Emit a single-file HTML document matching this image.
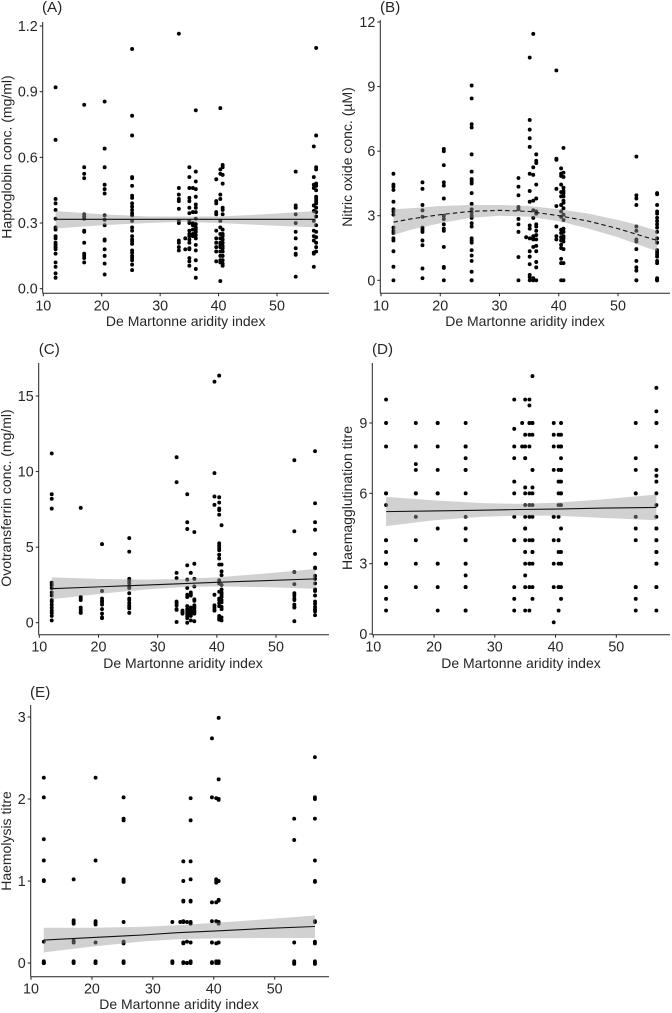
<!DOCTYPE html>
<html lang="en">
<head>
<meta charset="utf-8">
<title>Immune indices vs De Martonne aridity index</title>
<style>
html,body{margin:0;padding:0;background:#fff;width:672px;height:1013px;overflow:hidden}
svg{display:block;filter:blur(0.3px)}
text{font-family:"Liberation Sans",sans-serif;fill:#262626}
.tick{font-size:14.3px}
.title{font-size:14px}
.tag{font-size:15.2px}
</style>
</head>
<body>
<svg id="figure" xmlns="http://www.w3.org/2000/svg" width="672" height="1013" viewBox="0 0 672 1013">
  <rect width="672" height="1013" fill="#fff"/>

  <g id="panel-a">
    <text class="tag" x="42" y="12">(A)</text>
    <text class="title" x="185.7" y="326" text-anchor="middle">De Martonne aridity index</text>
    <text class="title" transform="translate(11.5,157) rotate(-90)" text-anchor="middle">Haptoglobin conc. (mg/ml)</text>
  </g>
  <g id="panel-b">
    <text class="tag" x="380" y="12">(B)</text>
    <text class="title" x="525" y="326" text-anchor="middle">De Martonne aridity index</text>
    <text class="title" transform="translate(352,157) rotate(-90)" text-anchor="middle">Nitric oxide conc. (µM)</text>
  </g>
  <g id="panel-c">
    <text class="tag" x="38.7" y="354">(C)</text>
    <text class="title" x="183" y="668" text-anchor="middle">De Martonne aridity index</text>
    <text class="title" transform="translate(11,498) rotate(-90)" text-anchor="middle">Ovotransferrin conc. (mg/ml)</text>
  </g>
  <g id="panel-d">
    <text class="tag" x="372" y="354">(D)</text>
    <text class="title" x="521" y="668" text-anchor="middle">De Martonne aridity index</text>
    <text class="title" transform="translate(352,498) rotate(-90)" text-anchor="middle">Haemagglutination titre</text>
  </g>
  <g id="panel-e">
    <text class="tag" x="30" y="697">(E)</text>
    <text class="title" x="179" y="1009" text-anchor="middle">De Martonne aridity index</text>
    <text class="title" transform="translate(11,841) rotate(-90)" text-anchor="middle">Haemolysis titre</text>
  </g>
</svg>

<script>
// ---------- shared tick labels ----------
const xTicks = [10, 20, 30, 40, 50];

// ---------- (A) Haptoglobin ----------
const hapYTicks = ["0.0", "0.3", "0.6", "0.9", "1.2"];
const hapSiteX = [12.1, 17, 20.5, 25.2, 33.2, 34.3, 35, 35.6, 36.1, 39.6, 40.3, 40.7, 53.2, 56.3, 56.7];
const hapValues = [
  [0.92,0.68,0.41,0.39,0.36,0.32,0.28,0.27,0.24,0.23,0.21,0.20,0.19,0.18,0.16,0.12,0.10,0.07,0.05],
  [0.84,0.555,0.525,0.505,0.34,0.33,0.32,0.265,0.26,0.21,0.16,0.15,0.14,0.12],
  [0.855,0.64,0.555,0.475,0.455,0.435,0.335,0.315,0.29,0.225,0.22,0.18,0.15,0.115,0.065],
  [1.095,0.79,0.70,0.51,0.505,0.47,0.425,0.415,0.39,0.375,0.36,0.345,0.335,0.31,0.28,0.265,0.24,0.225,0.215,0.205,0.175,0.165,0.15,0.14,0.13,0.11,0.085],
  [1.165,0.46,0.43,0.41,0.40,0.365,0.31,0.30,0.22,0.21,0.19,0.175],
  [0.23,0.18],
  [0.555,0.51,0.46,0.415,0.40,0.37,0.345,0.31,0.30,0.265,0.25,0.24,0.225,0.21,0.185,0.18,0.14,0.125,0.105],
  [0.46,0.35,0.30,0.29,0.27,0.25,0.24],
  [0.815,0.535,0.49,0.455,0.42,0.385,0.37,0.35,0.32,0.295,0.28,0.27,0.26,0.245,0.23,0.20,0.175,0.13,0.09,0.05],
  [0.50,0.40,0.39,0.35,0.34,0.265,0.23,0.21,0.19,0.17,0.125],
  [0.825,0.545,0.525,0.43,0.41,0.31,0.28,0.25,0.23,0.21,0.20,0.19,0.17,0.15,0.13,0.12,0.035],
  [0.565,0.555,0.52,0.48,0.37,0.36,0.34,0.27,0.25,0.24,0.225,0.21,0.195,0.185,0.17,0.15,0.13,0.115,0.105],
  [0.535,0.38,0.37,0.34,0.30,0.26,0.23,0.185,0.16,0.155,0.055],
  [0.65,0.51,0.475,0.46,0.38,0.355,0.31,0.265,0.24,0.22,0.165,0.16,0.10],
  [1.10,0.70,0.555,0.545,0.48,0.47,0.45,0.42,0.41,0.40,0.39,0.37,0.35,0.33,0.29,0.26,0.235,0.21,0.19,0.17]
];
const hapFitX = [12.1, 20, 28, 34, 40, 48, 56.6];
const hapFitMean = [0.317, 0.317, 0.317, 0.317, 0.317, 0.317, 0.317];
const hapFitUpper = [0.355, 0.34, 0.33, 0.33, 0.33, 0.34, 0.355];
const hapFitLower = [0.275, 0.29, 0.30, 0.305, 0.30, 0.29, 0.28];

// ---------- (B) Nitric oxide ----------
const noYTicks = ["0", "3", "6", "9", "12"];
const noSiteX = [12.1, 17, 20.6, 25.3, 33.2, 34.5, 35.1, 35.7, 36.2, 39.6, 40.4, 40.8, 53.1, 56.6];
const noValues = [
  [4.95,4.45,4.35,4.2,3.65,3.3,3.2,3.05,2.45,2.3,2.2,1.95,1.85,1.35,0.63,0],
  [4.55,4.25,3.5,3.25,2.95,2.45,2.35,2.25,1.85,1.63,0.55,0.1],
  [6.1,6.0,5.35,4.55,4.4,3.8,3.0,2.85,2.6,2.4,2.3,1.55,0.62,0.58,0],
  [9.05,8.45,7.25,7.1,5.85,5.05,4.7,4.6,4.5,4.05,3.55,3.3,3.15,3.0,2.9,2.65,2.5,1.95,1.85,1.75,1.4,1.15,0.9,0.4,0,0],
  [4.75,4.35,3.95,3.4,3.3,2.85,2.6,2.25,1.08,0],
  [2.0],
  [10.35,7.45,7.0,6.6,6.2,4.95,4.15,3.65,2.55,2.4,1.95,1.35,1.1,0.75,0.25,0.15,0],
  [11.45,5.25,4.9,3.7,3.25,2.9,2.05,1.95,1.9,1.55,0.1,0],
  [5.85,5.55,5.45,4.45,3.8,3.2,3.1,2.6,2.5,2.3,2.1,1.9,1.6,1.35,0.85,0.6,0],
  [9.75,5.65,5.6,4.25,3.45,2.5,2.05,1.9],
  [5.2,4.95,4.85,4.45,4.1,3.9,3.5,3.2,2.95,2.35,2.2,2.0,1.85,1.65,1.5,1.0,0.8,0],
  [6.15,5.0,4.8,4.3,4.15,4.05,3.9,3.7,3.6,3.35,3.05,2.8,2.4,2.25,2.05,1.95,1.8,1.45,0.8,0],
  [5.75,3.95,3.8,3.5,2.5,2.3,1.9,1.8,1.45,0.9,0.6,0.45,0,0],
  [4.05,4.0,3.5,3.2,3.1,2.9,2.75,2.6,2.45,2.25,1.95,1.75,1.4,1.3,1.2,1.1,0.9,0.8,0.1,0.05,0,0]
];
const noFitX = [12.1, 15, 20, 25, 30, 35, 40, 45, 50, 53, 56.6];
const noFitMean = [2.7, 2.85, 3.05, 3.2, 3.25, 3.2, 3.0, 2.75, 2.4, 2.15, 1.85];
const noFitUpper = [3.3, 3.35, 3.45, 3.5, 3.5, 3.45, 3.3, 3.1, 2.8, 2.6, 2.3];
const noFitLower = [2.1, 2.35, 2.65, 2.9, 3.0, 2.95, 2.75, 2.4, 2.0, 1.7, 1.35];

// ---------- (C) Ovotransferrin ----------
const ovoYTicks = ["0", "5", "10", "15"];
const ovoSiteX = [12.1, 17, 20.6, 25.2, 33.2, 34.2, 35, 35.6, 36.2, 39.6, 40.4, 40.8, 53.1, 56.6];
const ovoValues = [
  [11.2,8.5,8.2,7.55,2.65,2.5,2.3,2.0,1.8,1.5,1.4,1.2,1.0,0.8,0.65,0.45,0.15],
  [7.6,1.7,1.6,1.5,1.0,0.85,0.7,0.65],
  [5.2,2.1,1.6,1.45,1.35,1.2,0.9,0.6,0.35,0.3],
  [5.6,4.7,2.9,2.75,2.6,2.4,2.3,1.95,1.6,1.5,1.3,1.15,1.05,0.95,0.65],
  [10.95,9.3,3.3,2.95,1.4,1.3,1.15,0.9,0.85,0.05],
  [0.8,0.7,0.6],
  [8.5,6.65,6.2,3.8,2.85,2.3,1.85,1.7,1.1,0.9,0.75,0.6,0.5,0.4,0.3,0],
  [3.3,2.0,1.9,1.8,1.0,0.8,0.65,0.55,0.45,0.15],
  [6.0,3.9,2.9,2.4,1.55,1.45,1.15,1.05,0.95,0.8,0.7,0.6,0.1],
  [15.95,9.9,8.35,7.8,1.85,1.15,1.0,0.85,0.8],
  [16.35,8.3,7.95,7.55,7.45,7.15,5.25,5.1,4.95,4.8,4.5,4.25,3.85,2.8,2.6,2.05,1.6,1.5,1.3,1.1,0.45,0.3,0.2],
  [6.45,3.85,3.4,3.15,2.5,2.2,2.0,1.85,1.7,1.5,1.35,1.05,0.9,0.35,0.15],
  [10.75,6.05,3.35,2.55,1.95,1.8,1.6,1.5,1.2,1.05,1.0,0.1],
  [11.35,7.9,6.65,6.15,4.55,3.65,3.6,3.1,2.9,2.6,2.2,2.1,1.8,1.4,1.25,1.05,0.9,0.85,0.75,0.5]
];
const ovoFitX = [12.1, 20, 28, 34, 40, 48, 56.6];
const ovoFitMean = [2.25, 2.37, 2.49, 2.58, 2.67, 2.78, 2.9];
const ovoFitUpper = [3.0, 2.9, 2.85, 2.9, 3.0, 3.25, 3.55];
const ovoFitLower = [1.55, 1.9, 2.2, 2.35, 2.4, 2.35, 2.25];

// ---------- (D) Haemagglutination ----------
const haYTicks = ["0", "3", "6", "9"];
const haSiteX = [12.1, 17, 20.6, 25.2, 33.2, 34.5, 35, 35.7, 36.2, 39.7, 40.5, 40.9, 53.2, 56.6];
const haValues = [
  [10,9,8,6,6,5.5,4,4,3.5,3,3,2,1.5,1],
  [9,8,7.25,7,6,6,5,4,3,2],
  [9,9,8,7,6,6,4.5,3,3,2,1],
  [9,8,8,7.5,7,7,6,5,4.5,4,4,3,3,2.5,2,2,1,1],
  [10,8.75,8,7.5,6.5,6,5,4,4,2,1.5,1],
  [9,8],
  [10,8.5,8,7.5,7.5,6.25,6,5.5,5,4.5,4.5,4,3.5,3,2.5,2,1],
  [10,9.75,9,9,8.5,8,6,5.5,5,4,3,3,2,1],
  [11,9,9,8.5,7,7,6.25,6,5.5,5,4,4,3.5,3.5,3,2,1.5],
  [9,8.5,8,7,5,5,4,3,2,0.5],
  [8.5,8,7,6.5,6,5.5,5,4,4,3.5,3,2,2,1],
  [9,8.5,8,8,7.5,7,7,6.5,6,6,5.5,4.5,3.5,3,3,2,1.5],
  [9,7.5,7,6,6,5,4.5,4,2,2,1.5,1],
  [10.5,9.5,9,9,8,7,6.75,6.5,6,5.5,5,4.5,4.5,4,4,3.5,3.5,3,3,2,2,1]
];
const haFitX = [12.1, 20, 28, 34, 40, 48, 56.6];
const haFitMean = [5.22, 5.25, 5.28, 5.31, 5.33, 5.37, 5.4];
const haFitUpper = [5.85, 5.7, 5.58, 5.55, 5.6, 5.75, 5.95];
const haFitLower = [4.6, 4.85, 5.0, 5.05, 5.05, 4.95, 4.85];

// ---------- (E) Haemolysis ----------
const hlYTicks = ["0", "1", "2", "3"];
const hlSiteX = [12.1, 17, 20.6, 25.2, 33.2, 34.5, 35, 35.6, 36.2, 39.7, 40.4, 40.8, 53.2, 56.6];
const hlValues = [
  [2.26,2.02,1.51,1.25,1.01,1.0,0.26,0.02,0,0,0],
  [1.02,0.52,0.5,0.48,0.27,0.25,0.02,0.01,0],
  [2.26,1.25,0.51,0.49,0.47,0.25,0.02,0.01,0,0],
  [2.02,1.76,1.74,1.02,1.0,0.99,0.5,0.26,0.24,0.02,0.01,0],
  [0.5,0.02,0.01,0],
  [0.5],
  [1.24,1.0,0.76,0.75,0.51,0.5,0.25,0.24,0.01,0],
  [0.5,0.26,0,0],
  [2.01,1.74,1.24,1.02,0.76,0.75,0.5,0.48,0.25,0.02,0],
  [2.74,2.02,0.74,0.51,0.25,0.01,0],
  [2.01,1.02,1.0,0.98,0.74,0.51,0.24,0.02,0],
  [2.99,2.24,2.0,1.99,1.0,0.77,0.76,0.5,0.48,0.25,0.02,0.01,0],
  [1.76,1.5,0.25,0.02,0,-0.01],
  [2.51,2.02,2.0,1.76,1.25,1.0,0.99,0.51,0.5,0.26,0.24,0.02,0,-0.01]
];
const hlFitX = [12.1, 20, 28, 34, 40, 48, 56.6];
const hlFitMean = [0.28, 0.31, 0.34, 0.37, 0.39, 0.42, 0.445];
const hlFitUpper = [0.43, 0.43, 0.44, 0.46, 0.49, 0.53, 0.58];
const hlFitLower = [0.13, 0.2, 0.26, 0.29, 0.3, 0.305, 0.305];

// ---------- panel geometry (plot frame, calibration of axes) ----------
const panels = [
  {id:"panel-a", key:"haptoglobin", left:42.7, right:329, top:22, bottom:293.3, x10:43.3, x50:277, yLo:288.7, yHi:26, yMin:0, yMax:1.2, yLabels:hapYTicks, sites:hapSiteX, vals:hapValues, fx:hapFitX, fm:hapFitMean, fu:hapFitUpper, fl:hapFitLower, dash:false},
  {id:"panel-b", key:"nitric-oxide", left:380.3, right:670, top:20, bottom:293.3, x10:381, x50:618, yLo:280.3, yHi:22, yMin:0, yMax:12, yLabels:noYTicks, sites:noSiteX, vals:noValues, fx:noFitX, fm:noFitMean, fu:noFitUpper, fl:noFitLower, dash:true},
  {id:"panel-c", key:"ovotransferrin", left:38.7, right:329, top:363, bottom:634.7, x10:39.3, x50:276, yLo:622.7, yHi:396, yMin:0, yMax:15, yLabels:ovoYTicks, sites:ovoSiteX, vals:ovoValues, fx:ovoFitX, fm:ovoFitMean, fu:ovoFitUpper, fl:ovoFitLower, dash:false},
  {id:"panel-d", key:"haemagglutination", left:372.3, right:670, top:363, bottom:634.7, x10:373.3, x50:616.3, yLo:634, yHi:423, yMin:0, yMax:9, yLabels:haYTicks, sites:haSiteX, vals:haValues, fx:haFitX, fm:haFitMean, fu:haFitUpper, fl:haFitLower, dash:false},
  {id:"panel-e", key:"haemolysis", left:30.7, right:329, top:705, bottom:976.7, x10:31, x50:274.7, yLo:963, yHi:717, yMin:0, yMax:3, yLabels:hlYTicks, sites:hlSiteX, vals:hlValues, fx:hlFitX, fm:hlFitMean, fu:hlFitUpper, fl:hlFitLower, dash:false}
];

const NS = "http://www.w3.org/2000/svg";
function make(tag, attrs, parent) {
  const el = document.createElementNS(NS, tag);
  for (const k in attrs) el.setAttribute(k, attrs[k]);
  parent.appendChild(el);
  return el;
}

panels.forEach(function (p) {
  const root = document.getElementById(p.id);
  const xScale = function (v) { return p.x10 + (v - 10) * (p.x50 - p.x10) / 40; };
  const yScale = function (v) { return p.yLo + (v - p.yMin) * (p.yHi - p.yLo) / (p.yMax - p.yMin); };

  // points
  const ptsG = make("g", {fill: "#000"}, root);
  
  
  p.sites.forEach(function (sx, i) {
    p.vals[i].forEach(function (v) {
      const c = make("circle", {cx: xScale(sx), cy: yScale(v), r: 1.95}, ptsG);
      
      
    });
  });

  // confidence band
  let d = "";
  p.fx.forEach(function (x, i) { d += (i ? "L" : "M") + xScale(x) + " " + yScale(p.fu[i]); });
  for (let i = p.fx.length - 1; i >= 0; i--) d += "L" + xScale(p.fx[i]) + " " + yScale(p.fl[i]);
  const band = make("path", {d: d + "Z", fill: "#999", "fill-opacity": 0.45, stroke: "none"}, root);
  
  

  // fit line
  const linePts = p.fx.map(function (x, i) { return xScale(x) + "," + yScale(p.fm[i]); }).join(" ");
  const line = make("polyline", {points: linePts, fill: "none", stroke: "#111", "stroke-width": 1.1}, root);
  if (p.dash) line.setAttribute("stroke-dasharray", "4.5 3");
  
  

  // axes
  const axG = make("g", {stroke: "#222", "stroke-width": 1, fill: "none"}, root);
  
  
  const yAxis = make("line", {x1: p.left, x2: p.left, y1: p.top, y2: p.bottom}, axG);
  
  
  const xAxis = make("line", {x1: p.left, x2: p.right, y1: p.bottom, y2: p.bottom}, axG);
  
  

  xTicks.forEach(function (t) {
    const px = xScale(t);
    const tk = make("line", {x1: px, x2: px, y1: p.bottom, y2: p.bottom + 3}, axG);
    
    
    const lab = make("text", {x: px, y: p.bottom + 17, "text-anchor": "middle", "class": "tick"}, root);
    lab.textContent = t;
    
    
  });

  p.yLabels.forEach(function (t) {
    const py = yScale(parseFloat(t));
    const tk = make("line", {x1: p.left - 3, x2: p.left, y1: py, y2: py}, axG);
    
    
    const lab = make("text", {x: p.left - 5, y: py + 5, "text-anchor": "end", "class": "tick"}, root);
    lab.textContent = t;
    
    
  });
});
</script>
</body>
</html>
